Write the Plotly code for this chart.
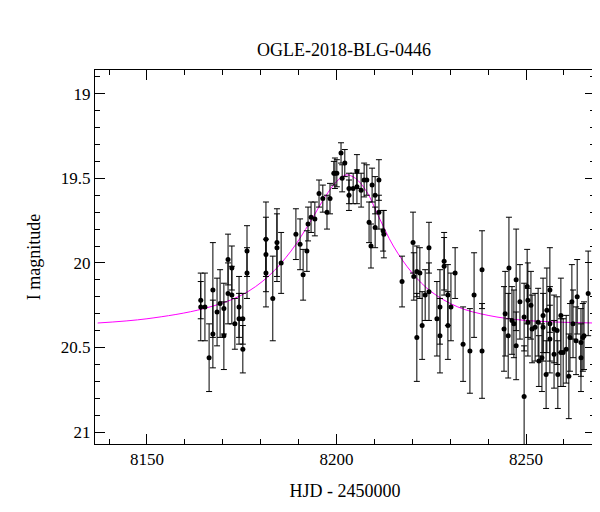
import plotly.graph_objects as go

# photometry: HJD-2450000, I mag, error
hjd = [8164.2, 8164.2, 8165.3, 8166.4, 8167.4, 8167.4, 8168.5, 8169.3, 8170.3, 8170.3,
       8171.4, 8171.4, 8172.4, 8172.4, 8173.2, 8174.3, 8174.3, 8175.3, 8175.3, 8176.4,
       8176.4, 8181.4, 8181.4, 8181.4, 8183.2, 8184.3, 8184.3, 8185.4, 8189.3, 8190.4,
       8191.2, 8192.2, 8192.5, 8193.3, 8194.3, 8195.4, 8196.4, 8197.5, 8198.3, 8199.3,
       8199.6, 8200.1, 8201.2, 8202.2, 8201.5, 8203.3, 8203.3, 8204.4, 8205.4, 8205.4,
       8206.5, 8207.3, 8208.0, 8209.4, 8211.2, 8210.2, 8208.6, 8209.1, 8210.2, 8211.2,
       8212.3, 8212.5, 8217.3, 8220.2, 8220.4, 8221.2, 8222.0, 8223.4, 8224.4, 8224.4,
       8221.2, 8222.6, 8226.5, 8227.3, 8227.3, 8228.4, 8228.4, 8229.4, 8229.4, 8230.2,
       8231.3, 8233.4, 8235.2, 8236.3, 8238.4, 8238.4, 8244.2, 8244.5, 8245.3, 8245.5,
       8246.3, 8246.8, 8247.4, 8247.4, 8248.4, 8249.5, 8249.5, 8250.3, 8250.5, 8250.5,
       8251.3, 8251.6, 8252.4, 8253.2, 8253.4, 8254.2, 8254.5, 8254.5, 8255.3, 8255.5,
       8256.3, 8256.3, 8256.3, 8257.4, 8257.4, 8258.2, 8258.4, 8259.2, 8259.2, 8259.8,
       8260.6, 8261.3, 8261.6, 8262.1, 8262.4, 8263.5, 8263.2, 8264.5, 8264.5, 8265.0,
       8265.3, 8266.4]
mag = [20.22, 20.26, 20.26, 20.56, 20.16, 20.42, 20.29, 20.24, 20.27, 20.43,
       19.98, 20.18, 20.03, 20.19, 20.36, 20.26, 20.33, 20.33, 20.51, 19.93,
       20.06, 19.86, 19.95, 20.06, 20.21, 19.88, 19.91, 20.00, 19.83, 19.89,
       20.07, 19.93, 19.77, 19.73, 19.74, 19.59, 19.62, 19.70, 19.62, 19.47,
       19.47, 19.47, 19.35, 19.41, 19.50, 19.56, 19.60, 19.56, 19.46, 19.55,
       19.57, 19.51, 19.51, 19.54, 19.51, 19.60, 19.76, 19.90, 19.79, 19.70,
       19.81, 19.83, 20.11, 19.88, 20.08, 20.05, 20.06, 20.19, 19.91, 20.17,
       20.44, 20.37, 20.33, 20.26, 20.43, 19.99, 20.02, 20.19, 20.37, 20.26,
       20.06, 20.48, 20.52, 20.19, 20.52, 20.04, 20.39, 20.30, 20.43, 20.03,
       20.34, 20.36, 20.10, 20.49, 20.23, 20.32, 20.79, 20.14, 20.22, 20.35,
       20.25, 20.39, 20.38, 20.35, 20.58, 20.56, 20.31, 20.38, 20.66, 20.28,
       20.36, 20.16, 20.45, 20.54, 20.39, 20.40, 20.66, 20.53, 20.31, 20.53,
       20.51, 20.67, 20.44, 20.23, 20.36, 20.20, 20.46, 20.47, 20.56, 20.44,
       20.43, 20.18]
err = [0.11, 0.20, 0.20, 0.20, 0.28, 0.20, 0.20, 0.20, 0.15, 0.20,
       0.15, 0.18, 0.13, 0.17, 0.15, 0.18, 0.15, 0.15, 0.14, 0.15,
       0.15, 0.22, 0.22, 0.20, 0.25, 0.20, 0.20, 0.18, 0.15, 0.15,
       0.15, 0.12, 0.10, 0.09, 0.10, 0.08, 0.08, 0.10, 0.09, 0.07,
       0.09, 0.08, 0.06, 0.08, 0.08, 0.09, 0.09, 0.09, 0.10, 0.10,
       0.10, 0.10, 0.09, 0.10, 0.12, 0.11, 0.12, 0.13, 0.12, 0.10,
       0.12, 0.14, 0.15, 0.18, 0.14, 0.15, 0.15, 0.15, 0.15, 0.17,
       0.26, 0.20, 0.22, 0.22, 0.22, 0.17, 0.17, 0.18, 0.20, 0.20,
       0.15, 0.22, 0.25, 0.25, 0.28, 0.23, 0.25, 0.25, 0.25, 0.30,
       0.20, 0.20, 0.30, 0.20, 0.22, 0.20, 0.30, 0.22, 0.22, 0.20,
       0.20, 0.20, 0.20, 0.20, 0.15, 0.20, 0.22, 0.20, 0.20, 0.25,
       0.22, 0.25, 0.20, 0.20, 0.20, 0.20, 0.20, 0.20, 0.22, 0.20,
       0.20, 0.25, 0.20, 0.22, 0.20, 0.22, 0.20, 0.20, 0.20, 0.20,
       0.20, 0.25]

# model curve
model_t = [8137, 8150, 8165, 8175, 8182, 8188, 8193, 8197, 8200, 8202.5, 8205, 8208,
           8211, 8215, 8220, 8225, 8232, 8240, 8250, 8268]
model_m = [20.355, 20.33, 20.27, 20.19, 20.08, 19.93, 19.76, 19.61, 19.52, 19.48, 19.50, 19.58,
           19.72, 19.90, 20.06, 20.17, 20.26, 20.31, 20.34, 20.355]

font = "Liberation Serif, DejaVu Serif, serif"

fig = go.Figure()
fig.add_trace(go.Scatter(x=model_t, y=model_m, mode="lines", line_shape="spline",
                         line=dict(color="#ff00ff", width=1)))
fig.add_trace(go.Scatter(x=hjd, y=mag, mode="markers",
                         marker=dict(color="black", size=5),
                         error_y=dict(type="data", array=err, color="black", thickness=1, width=3)))

axis = dict(showline=True, linecolor="black", linewidth=1, mirror="ticks", ticks="inside",
            ticklen=10, tickcolor="black", showgrid=False, zeroline=False, automargin=False,
            tickfont=dict(family=font, size=17, color="black"))
fig.update_xaxes(**axis, range=[8136.3, 8268.2], tickvals=[8150, 8200, 8250],
                 minor=dict(ticks="inside", ticklen=5, dtick=10, tick0=8150, tickcolor="black"),
                 title=dict(text="HJD - 2450000", font=dict(family=font, size=18, color="black")))
fig.update_yaxes(**axis, range=[21.07, 18.86], tickvals=[19, 19.5, 20, 20.5, 21],
                 minor=dict(ticks="inside", ticklen=5, dtick=0.1, tick0=19, tickcolor="black"),
                 title=dict(text="I magnitude", font=dict(family=font, size=18, color="black")))
fig.update_layout(width=600, height=512, showlegend=False, plot_bgcolor="white",
                  paper_bgcolor="white", font=dict(family=font),
                  margin=dict(l=87, r=13, t=62, b=76),
                  title=dict(text="OGLE-2018-BLG-0446", x=0.56, y=0.93, xanchor="center",
                             font=dict(family=font, size=18, color="black")))
fig.write_html("out.html")
